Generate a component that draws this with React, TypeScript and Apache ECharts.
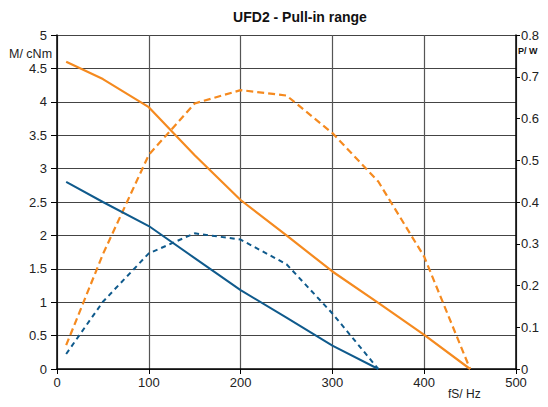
import React, { useEffect, useRef } from "react";
import * as echarts from "echarts";

const freqOrange = [10, 50, 100, 150, 200, 250, 300, 350, 400, 450];
const torqueOrange = [4.6, 4.34, 3.92, 3.2, 2.53, 2.0, 1.46, 0.99, 0.51, 0];
const powerOrange = [0.057, 0.275, 0.513, 0.636, 0.668, 0.655, 0.565, 0.449, 0.269, 0];

const freqBlue = [10, 50, 100, 150, 200, 250, 300, 350];
const torqueBlue = [2.8, 2.5, 2.14, 1.66, 1.18, 0.77, 0.35, 0];
const powerBlue = [0.036, 0.161, 0.277, 0.325, 0.31, 0.251, 0.133, 0];

const ORANGE = "#F58A1F";
const BLUE = "#0F5A8C";

const pairs = (xs: number[], ys: number[]) => xs.map((x, i) => [x, ys[i]]);

export default function App() {
  const ref = useRef<HTMLDivElement>(null);
  useEffect(() => {
    if (!ref.current) return;
    const chart = echarts.init(ref.current, null, { renderer: "svg" });
    const font = "Liberation Sans, Arial, sans-serif";
    chart.setOption({
      animation: false,
      backgroundColor: "#fff",
      textStyle: { fontFamily: font },
      title: {
        text: "UFD2 - Pull-in range",
        left: 295,
        textAlign: "center",
        top: 5,
        textStyle: { fontSize: 14, fontWeight: "bold", color: "#111", fontFamily: font },
      },
      grid: { left: 57, right: 32, top: 35, bottom: 38, containLabel: false },
      xAxis: {
        type: "value",
        min: 0,
        max: 500,
        interval: 100,
        axisLine: { show: true, lineStyle: { color: "#000", width: 1.5 } },
        axisTick: { show: true, length: 5, lineStyle: { color: "#000" } },
        axisLabel: { color: "#222", fontSize: 13, margin: 7, fontFamily: font },
        splitLine: { show: true, lineStyle: { color: "#555", width: 1.2 } },
      },
      yAxis: [
        {
          type: "value",
          min: 0,
          max: 5,
          interval: 0.5,
          position: "left",
          axisLine: { show: true, lineStyle: { color: "#000", width: 1.5 } },
          axisTick: { show: true, length: 6, lineStyle: { color: "#000" } },
          axisLabel: { color: "#222", fontSize: 13, margin: 10, fontFamily: font },
          splitLine: { show: true, lineStyle: { color: "#444", width: 1.2 } },
        },
        {
          type: "value",
          min: 0,
          max: 0.8,
          interval: 0.1,
          position: "right",
          axisLine: { show: true, lineStyle: { color: "#000", width: 1.5 } },
          axisTick: { show: true, length: 4, lineStyle: { color: "#000" } },
          axisLabel: {
            color: "#222",
            fontSize: 13,
            margin: 5,
            fontFamily: font,
            formatter: (v: number) => (Math.round(v * 10) / 10).toString(),
          },
          splitLine: { show: false },
        },
      ],
      graphic: [
        {
          type: "text",
          left: 9,
          top: 47,
          style: { text: "M/ cNm", fontSize: 12.5, fill: "#222", fontFamily: font },
        },
        {
          type: "text",
          left: 518,
          top: 46,
          style: { text: "P/ W", fontSize: 9, fontWeight: "bold", fill: "#111", fontFamily: font },
        },
        {
          type: "text",
          left: 448,
          top: 388,
          style: { text: "fS/ Hz", fontSize: 12, fill: "#222", fontFamily: font },
        },
      ],
      series: [
        {
          type: "line",
          name: "M orange",
          data: pairs(freqOrange, torqueOrange),
          yAxisIndex: 0,
          showSymbol: false,
          lineStyle: { color: ORANGE, width: 2.2 },
        },
        {
          type: "line",
          name: "P orange",
          data: pairs(freqOrange, powerOrange),
          yAxisIndex: 1,
          showSymbol: false,
          lineStyle: { color: ORANGE, width: 2.2, type: [7, 4] },
        },
        {
          type: "line",
          name: "M blue",
          data: pairs(freqBlue, torqueBlue),
          yAxisIndex: 0,
          showSymbol: false,
          lineStyle: { color: BLUE, width: 2 },
        },
        {
          type: "line",
          name: "P blue",
          data: pairs(freqBlue, powerBlue),
          yAxisIndex: 1,
          showSymbol: false,
          lineStyle: { color: BLUE, width: 2, type: [5, 4] },
        },
      ],
    });
    return () => chart.dispose();
  }, []);
  return <div ref={ref} style={{ width: 548, height: 407, position: "absolute", left: 0, top: 0 }} />;
}
